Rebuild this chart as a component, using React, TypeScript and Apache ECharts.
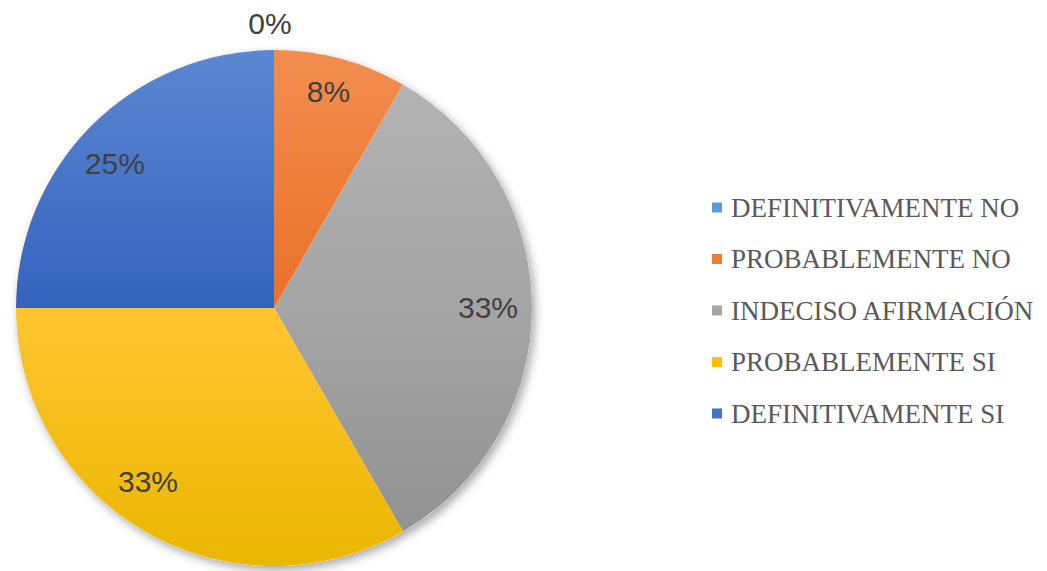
import React, { useEffect, useRef } from "react";
import * as echarts from "echarts";

const categories = [
  "DEFINITIVAMENTE NO",
  "PROBABLEMENTE NO",
  "INDECISO AFIRMACIÓN",
  "PROBABLEMENTE SI",
  "DEFINITIVAMENTE SI",
];
const values = [0, 1, 4, 4, 3];

// styling (not data)
const baseColors = ["#5B9BD5", "#ED7D31", "#A5A5A5", "#FFC000", "#4472C4"];
const gradientStops: string[][] = [
  ["#6FA8DC", "#5B9BD5", "#4A8AC4"],
  ["#F28E50", "#EA7026", "#D8600F"],
  ["#B5B5B5", "#A5A5A5", "#8F8F8F"],
  ["#FFCE60", "#FFC531", "#EAB700"],
  ["#5C87D2", "#3463BD", "#2A55A8"],
];
const labelNudge: number[][] = [
  [-4, 3],
  [-2, -6],
  [-4, -1],
  [-17, -15],
  [-5, 10],
];

const CX = 274;
const CY = 308;
const R = 258;

function grad(stops: string[]) {
  return new echarts.graphic.LinearGradient(
    0, CY - R, 0, CY + R,
    [
      { offset: 0, color: stops[0] },
      { offset: 0.5, color: stops[1] },
      { offset: 1, color: stops[2] },
    ],
    true
  );
}

const labelFont = "'Liberation Sans', Arial, sans-serif";

export default function App() {
  const ref = useRef<HTMLDivElement>(null);
  useEffect(() => {
    if (!ref.current) return;
    const chart = echarts.init(ref.current, null, { renderer: "svg" });
    const fmt = (p: any) => Math.round(p.percent) + "%";
    const labelStyle = {
      color: "#404040",
      fontSize: 30,
      fontFamily: labelFont,
      formatter: fmt,
    };
    chart.setOption({
      animation: false,
      backgroundColor: "#ffffff",
      legend: {
        orient: "vertical",
        left: 707,
        top: 189,
        itemWidth: 10,
        itemHeight: 10,
        itemGap: 24.5,
        icon: "rect",
        selectedMode: false,
        textStyle: {
          color: "#595959",
          fontSize: 27,
          lineHeight: 26,
          fontFamily: "'Liberation Serif', 'Times New Roman', serif",
          padding: [0, 0, 0, 4],
        },
        data: categories.map((name, i) => ({
          name,
          itemStyle: { color: baseColors[i] },
        })),
      },
      series: [
        {
          type: "pie",
          name: "bg",
          center: [CX, CY],
          radius: R,
          silent: true,
          z: 1,
          label: { show: false },
          labelLine: { show: false },
          itemStyle: {
            color: "#ffffff",
            shadowBlur: 10,
            shadowOffsetX: 3,
            shadowOffsetY: 4,
            shadowColor: "rgba(0,0,0,0.35)",
          },
          data: [{ name: "_bg", value: 1 }],
        },
        {
          type: "pie",
          name: "main",
          center: [CX, CY],
          radius: R,
          z: 2,
          silent: true,
          label: { show: false },
          labelLine: { show: false },
          itemStyle: { borderWidth: 0 },
          data: categories.map((name, i) => ({
            name,
            value: values[i],
            itemStyle: { color: grad(gradientStops[i]) },
          })),
        },
        {
          type: "pie",
          name: "labels",
          center: [CX, CY],
          radius: [172, R],
          z: 3,
          silent: true,
          avoidLabelOverlap: false,
          itemStyle: { color: "rgba(0,0,0,0)", borderWidth: 0 },
          labelLine: { show: false },
          label: { position: "inside", ...labelStyle },
          data: categories.map((name, i) => ({
            name,
            value: values[i],
            label: { show: values[i] > 0, offset: labelNudge[i] },
          })),
        },
        {
          type: "pie",
          name: "zeroLabels",
          center: [CX, CY],
          radius: [272, 297],
          z: 3,
          silent: true,
          avoidLabelOverlap: false,
          itemStyle: { color: "rgba(0,0,0,0)", borderWidth: 0 },
          labelLine: { show: false },
          label: { position: "inside", ...labelStyle },
          data: categories.map((name, i) => ({
            name,
            value: values[i],
            label: { show: values[i] === 0, offset: labelNudge[i] },
          })),
        },
      ],
    });
    return () => chart.dispose();
  }, []);
  return (
    <div
      ref={ref}
      style={{ position: "fixed", left: 0, top: 0, width: 1047, height: 571 }}
    />
  );
}
